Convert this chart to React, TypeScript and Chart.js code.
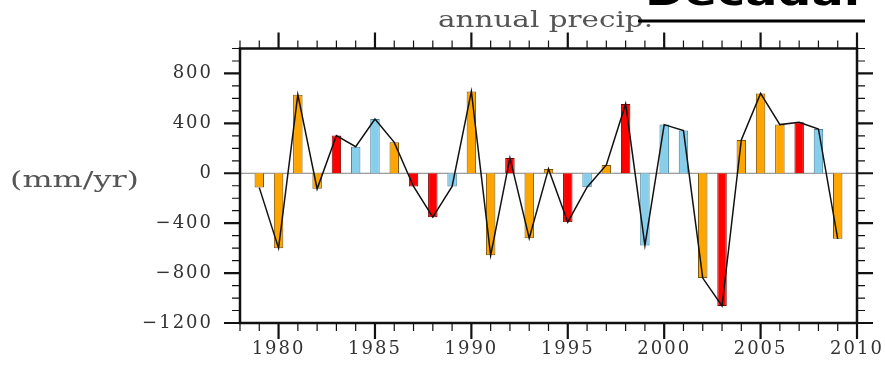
import React, { useEffect, useRef } from 'react';
import { Chart, registerables } from 'chart.js';

Chart.register(...registerables);

// ---- data ----
const years = [
  1979, 1980, 1981, 1982, 1983, 1984, 1985, 1986, 1987, 1988,
  1989, 1990, 1991, 1992, 1993, 1994, 1995, 1996, 1997, 1998,
  1999, 2000, 2001, 2002, 2003, 2004, 2005, 2006, 2007, 2008, 2009,
];
const precipAnomaly = [
  -115, -600, 630, -125, 302, 213, 435, 248, -106, -352,
  -106, 656, -658, 123, -520, 35, -392, -112, 67, 555,
  -578, 390, 342, -840, -1064, 267, 640, 390, 408, 355, -525,
];
// EN = El Nino year, LN = La Nina year, N = neutral
const phase = [
  'N', 'N', 'N', 'N', 'EN', 'LN', 'LN', 'N', 'EN', 'EN',
  'LN', 'N', 'N', 'EN', 'N', 'N', 'EN', 'LN', 'N', 'EN',
  'LN', 'LN', 'LN', 'N', 'EN', 'N', 'N', 'N', 'EN', 'LN', 'N',
];
const xTickLabels = [1980, 1985, 1990, 1995, 2000, 2005, 2010];
const yTickLabels = [-1200, -800, -400, 0, 400, 800];
const titleText = 'annual precip.';
const unitText = '(mm/yr)';
const headerText = 'Decadal';
const xMin = 1978;
const xMax = 2010;
const yMin = -1200;
const yMax = 1000;

const phaseFill: Record<string, string> = { N: '#FFA500', EN: '#FF0000', LN: '#87CEEB' };
const phaseEdge: Record<string, string> = { N: '#7a5200', EN: '#7a0000', LN: '#3f7f9f' };

const fmt = (v: number) => (v < 0 ? '\u2212' + Math.abs(v) : String(v));

const decorPlugin = {
  id: 'decor',
  beforeDraw(chart: any) {
    chart.ctx.letterSpacing = '2px';
  },
  beforeDatasetsDraw(chart: any) {
    const { ctx, chartArea } = chart;
    const ys = chart.scales.y;
    const y0 = ys.getPixelForValue(0);
    ctx.save();
    ctx.strokeStyle = '#808080';
    ctx.lineWidth = 1;
    ctx.beginPath();
    ctx.moveTo(chartArea.left, y0);
    ctx.lineTo(chartArea.right, y0);
    ctx.stroke();
    ctx.restore();
  },
  afterDraw(chart: any) {
    const { ctx, chartArea } = chart;
    const xs = chart.scales.x;
    const ys = chart.scales.y;
    const { left, right, top, bottom } = chartArea;
    ctx.save();
    ctx.letterSpacing = '0px';
    ctx.strokeStyle = '#111';
    ctx.lineCap = 'butt';
    // ticks on x (top & bottom)
    for (let yr = xMin; yr <= xMax; yr++) {
      const px = xs.getPixelForValue(yr);
      const major = yr % 5 === 0;
      const len = major ? 16 : 8;
      ctx.lineWidth = major ? 2.2 : 1.2;
      ctx.beginPath();
      ctx.moveTo(px, top);
      ctx.lineTo(px, top - len);
      ctx.moveTo(px, bottom);
      ctx.lineTo(px, bottom + len);
      ctx.stroke();
    }
    // ticks on y (left & right)
    for (let v = yMin; v <= yMax; v += 100) {
      const py = ys.getPixelForValue(v);
      const major = v % 400 === 0;
      const len = major ? 16 : 8;
      ctx.lineWidth = major ? 2.2 : 1.2;
      ctx.beginPath();
      ctx.moveTo(left, py);
      ctx.lineTo(left - len, py);
      ctx.moveTo(right, py);
      ctx.lineTo(right + len, py);
      ctx.stroke();
    }
    // frame
    ctx.lineWidth = 2.5;
    ctx.strokeRect(left, top, right - left, bottom - top);

    // title
    ctx.fillStyle = '#555';
    ctx.font = '23px "DejaVu Serif"';
    ctx.textBaseline = 'alphabetic';
    let w = ctx.measureText(titleText).width;
    ctx.save();
    ctx.translate(438, 27);
    ctx.scale(215 / w, 1);
    ctx.textAlign = 'left';
    ctx.fillText(titleText, 0, 0);
    ctx.restore();

    // unit label
    ctx.fillStyle = '#555';
    ctx.font = '23px "DejaVu Serif"';
    w = ctx.measureText(unitText).width;
    ctx.save();
    ctx.translate(10, 187);
    ctx.scale(129 / w, 1);
    ctx.textAlign = 'left';
    ctx.fillText(unitText, 0, 0);
    ctx.restore();

    // cut-off header
    ctx.fillStyle = '#000';
    ctx.font = 'bold 38px "DejaVu Sans"';
    w = ctx.measureText(headerText).width;
    ctx.save();
    ctx.translate(645, 5);
    ctx.scale(215 / w, 1);
    ctx.textAlign = 'left';
    ctx.fillText(headerText, 0, 0);
    ctx.restore();
    ctx.fillRect(638, 19.5, 227, 3);

    ctx.restore();
  },
};

export default function App() {
  const ref = useRef<HTMLCanvasElement | null>(null);

  useEffect(() => {
    if (!ref.current) return;
    Chart.defaults.font.family = '"DejaVu Serif"';
    const points = years.map((yr, i) => ({ x: yr, y: precipAnomaly[i] }));
    const chart = new Chart(ref.current, {
      type: 'bar',
      data: {
        datasets: [
          {
            type: 'line',
            label: 'line',
            data: points,
            borderColor: '#111',
            borderWidth: 1.5,
            pointRadius: 0,
            tension: 0,
            fill: false,
            order: 0,
          } as any,
          {
            type: 'bar',
            label: 'annual precip.',
            data: points,
            backgroundColor: phase.map((p) => phaseFill[p]),
            borderColor: phase.map((p) => phaseEdge[p]),
            borderWidth: 1,
            barPercentage: 0.49,
            categoryPercentage: 1,
            order: 1,
          } as any,
        ],
      },
      options: {
        responsive: false,
        animation: false,
        devicePixelRatio: 1,
        layout: { padding: { top: 48.5, right: 28, left: 0, bottom: 0 } },
        plugins: {
          legend: { display: false },
          tooltip: { enabled: false },
          title: { display: false },
        },
        scales: {
          x: {
            type: 'linear',
            position: 'bottom',
            min: xMin,
            max: xMax,
            offset: false,
            grid: { display: false, drawTicks: false, offset: false },
            border: { display: false },
            afterBuildTicks: (s: any) => {
              s.ticks = xTickLabels.map((v) => ({ value: v }));
            },
            ticks: {
              autoSkip: false,
              maxRotation: 0,
              padding: 16,
              color: '#333',
              font: { size: 18, family: '"DejaVu Serif"' },
              callback: (v: any) => String(v),
            },
            afterFit: (s: any) => {
              s.height = 50;
              s.paddingLeft = 0;
              s.paddingRight = 0;
            },
          },
          y: {
            type: 'linear',
            position: 'left',
            min: yMin,
            max: yMax,
            grid: { display: false, drawTicks: false },
            border: { display: false },
            afterBuildTicks: (s: any) => {
              s.ticks = yTickLabels.map((v) => ({ value: v }));
            },
            ticks: {
              autoSkip: false,
              padding: 27,
              color: '#333',
              font: { size: 18, family: '"DejaVu Serif"' },
              callback: (v: any) => fmt(Number(v)),
            },
            afterFit: (s: any) => {
              s.width = 240;
              s.paddingTop = 0;
              s.paddingBottom = 0;
            },
          },
        },
      } as any,
      plugins: [decorPlugin],
    });
    return () => chart.destroy();
  }, []);

  return (
    <div style={{ position: 'fixed', left: 0, top: 0, width: 885, height: 373, background: '#fff' }}>
      <canvas ref={ref} width={885} height={373} style={{ display: 'block' }} />
    </div>
  );
}
